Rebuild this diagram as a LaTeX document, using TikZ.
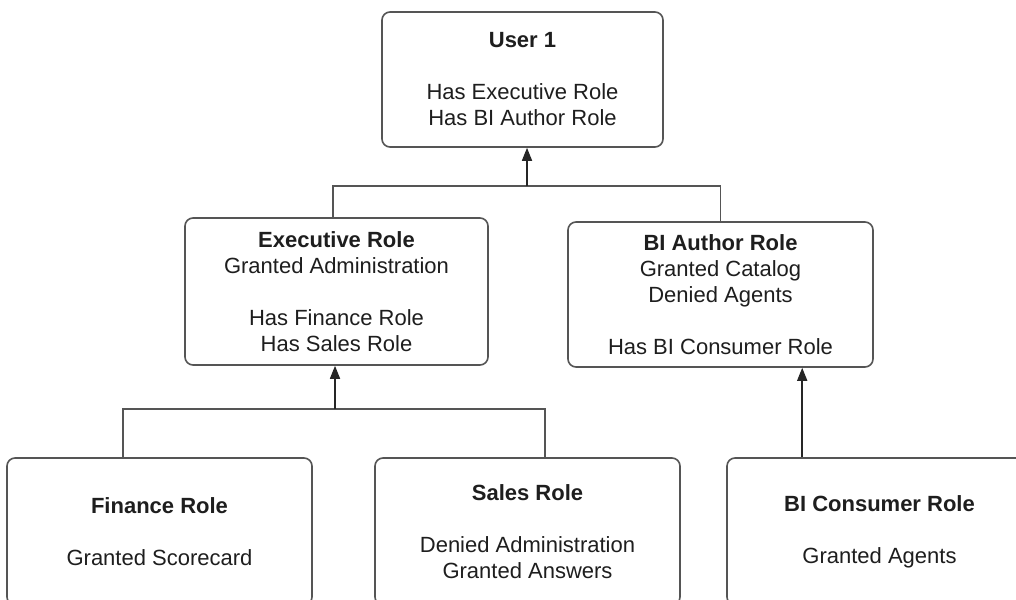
\documentclass[tikz,border=0pt]{standalone}
\usepackage{fontspec}
\setmainfont{Liberation Sans}
\usetikzlibrary{arrows.meta,calc}
\definecolor{linegray}{RGB}{85,85,85}
\definecolor{txt}{RGB}{30,30,30}
\begin{document}
\begin{tikzpicture}[x=1pt,y=-1pt,
  rolebox/.style={draw=linegray,line width=1.6pt,rounded corners=8pt,inner sep=0pt,
    align=center,text=txt,font=\fontsize{22}{26}\selectfont,
    minimum width=305pt,minimum height=147pt},
  conn/.style={draw=linegray,line width=1.6pt},
  arr/.style={draw=black!85,line width=1.6pt,-{Triangle[length=13pt,width=10pt]}}]
\useasboundingbox (0,0) rectangle (1016,599);
\clip (0,0) rectangle (1016,599);
\fill[white] (0,0) rectangle (1016,599);

\node[rolebox,minimum width=281pt,minimum height=135pt] (user) at (522.5,79.5)
  {\textbf{User 1}\\[26pt]Has Executive Role\\Has BI Author Role};
\node[rolebox,minimum width=303pt] (exec) at (336.5,291.5)
  {\textbf{Executive Role}\\Granted Administration\\[26pt]Has Finance Role\\Has Sales Role};
\node[rolebox,minimum height=145pt] (bia) at (720.5,294.5)
  {\textbf{BI Author Role}\\Granted Catalog\\Denied Agents\\[26pt]Has BI Consumer Role};
\node[rolebox] (fin) at (159.5,531.5)
  {\textbf{Finance Role}\\[26pt]Granted Scorecard};
\node[rolebox] (sales) at (527.5,531.5)
  {\textbf{Sales Role}\\[26pt]Denied Administration\\Granted Answers};
\node[rolebox] (bic) at (879.5,531.5)
  {\textbf{BI Consumer Role}\\[26pt]Granted Agents};

% top bus
\coordinate (bus1) at (527,186);
\draw[conn] ([xshift=-3.5pt]exec.north) |- (bus1) -| (bia.north);
\draw[arr] (bus1) -- (bus1 |- user.south);

% middle bus
\coordinate (bus2) at (335,409);
\coordinate (finTop) at ([xshift=117pt]fin.north west);
\coordinate (salesTop) at ([xshift=171pt]sales.north west);
\draw[conn] (finTop) |- (bus2) -| (salesTop);
\draw[arr] (bus2) -- (bus2 |- exec.south);

% BI consumer to BI author
\coordinate (bicTop) at ([xshift=76pt]bic.north west);
\draw[arr] (bicTop) -- (bicTop |- bia.south);
\end{tikzpicture}
\end{document}
